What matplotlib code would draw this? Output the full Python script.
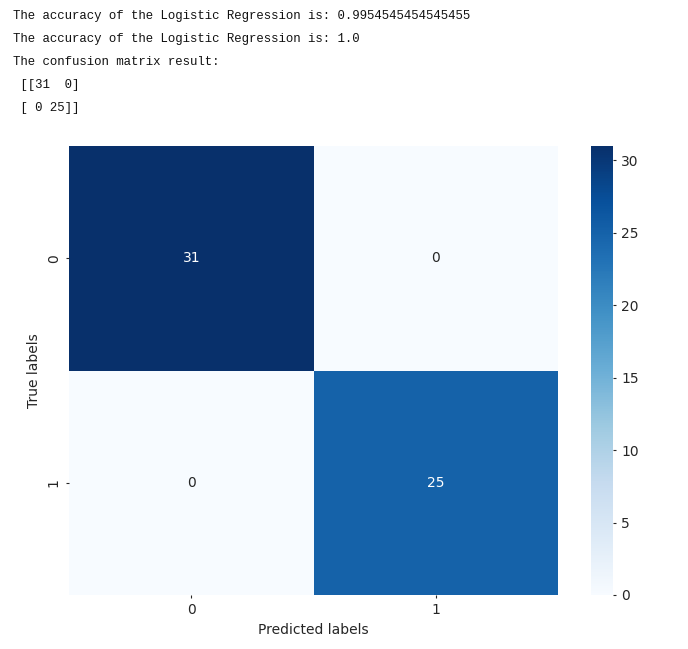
import numpy as np
import matplotlib
matplotlib.use('Agg')
import matplotlib.pyplot as plt
import seaborn as sns

# datos de la matriz de confusion
acc_train = 0.9954545454545455
acc_test = 1.0
labels = ['0', '1']
cm = np.array([[31, 0],
               [0, 25]])

fig = plt.figure(figsize=(6.88, 6.49), dpi=100)

# texto de salida (como en el notebook)
lines = [
    f'The accuracy of the Logistic Regression is: {acc_train}',
    f'The accuracy of the Logistic Regression is: {acc_test}',
    'The confusion matrix result:',
    ' [[31  0]',
    ' [ 0 25]]',
]
for i, line in enumerate(lines):
    fig.text(13 / 688, 1 - (16 + i * 23) / 649, line, family='Liberation Mono',
             fontsize=8.9, va='center', ha='left', color='#111111')

ax = fig.add_axes([69 / 688, 1 - 595 / 649, (558 - 69) / 688, (595 - 146) / 649])
cax = fig.add_axes([591 / 688, 1 - 595 / 649, (613 - 591) / 688, (595 - 146) / 649])

sns.heatmap(cm, annot=True, fmt='d', cmap='Blues', ax=ax, cbar_ax=cax,
            xticklabels=labels, yticklabels=labels, vmin=0, vmax=31)
ax.set_xlabel('Predicted labels', color='#262626')
ax.set_ylabel('True labels', color='#262626')
ax.set_yticklabels(labels, rotation=90, va='center')
ax.tick_params(length=2.5, colors='#262626')
cax.tick_params(length=2.5, colors='#262626')
cax.yaxis.set_ticks([0, 5, 10, 15, 20, 25, 30])

plt.savefig('out.png', dpi=100)
